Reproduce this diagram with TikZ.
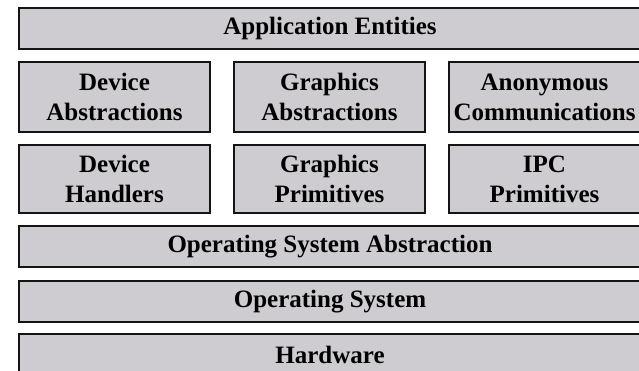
\documentclass[tikz,border=0pt]{standalone}
\usepackage{fontspec}
\setmainfont{Liberation Serif}
\begin{document}
\definecolor{layerfill}{RGB}{206,204,209}
\definecolor{layerline}{RGB}{20,20,20}
\begin{tikzpicture}[x=1pt,y=-1pt,
  layer/.style={draw=layerline, line width=2pt, fill=layerfill,
    rectangle, inner sep=0pt, align=center,
    font=\fontsize{25}{30.5}\selectfont\bfseries},
  twoline/.style={layer, text depth=-5pt},
]
\useasboundingbox (0,0) rectangle (639,370);
\clip (0,0) rectangle (639,370);
\fill[white] (0,0) rectangle (639,370);
% full-width layers
\node[layer, minimum width=622pt, minimum height=41pt] (app) at (330,28.5) {Application Entities};
\node[layer, minimum width=622pt, minimum height=41pt] (osa) at (330,246.5) {Operating System Abstraction};
\node[layer, minimum width=622pt, minimum height=41pt] (os) at (330,301.5) {Operating System};
\node[layer, minimum width=622pt, minimum height=41pt] (hw) at (330,354.5) {Hardware};
% abstraction row
\node[twoline, minimum width=191pt, minimum height=70pt] (devabs) at (114.5,97) {Device\\Abstractions};
\node[twoline, minimum width=191pt, minimum height=70pt] (gfxabs) at (329.5,97) {Graphics\\Abstractions};
\node[twoline, minimum width=191pt, minimum height=70pt] (anon) at (544.5,97) {Anonymous\\Communications};
% primitive row
\node[twoline, minimum width=191pt, minimum height=68pt] (devh) at (114.5,179) {Device\\Handlers};
\node[twoline, minimum width=191pt, minimum height=68pt] (gfxp) at (329.5,179) {Graphics\\Primitives};
\node[twoline, minimum width=191pt, minimum height=68pt] (ipc) at (544.5,179) {IPC\\Primitives};
\end{tikzpicture}
\end{document}
